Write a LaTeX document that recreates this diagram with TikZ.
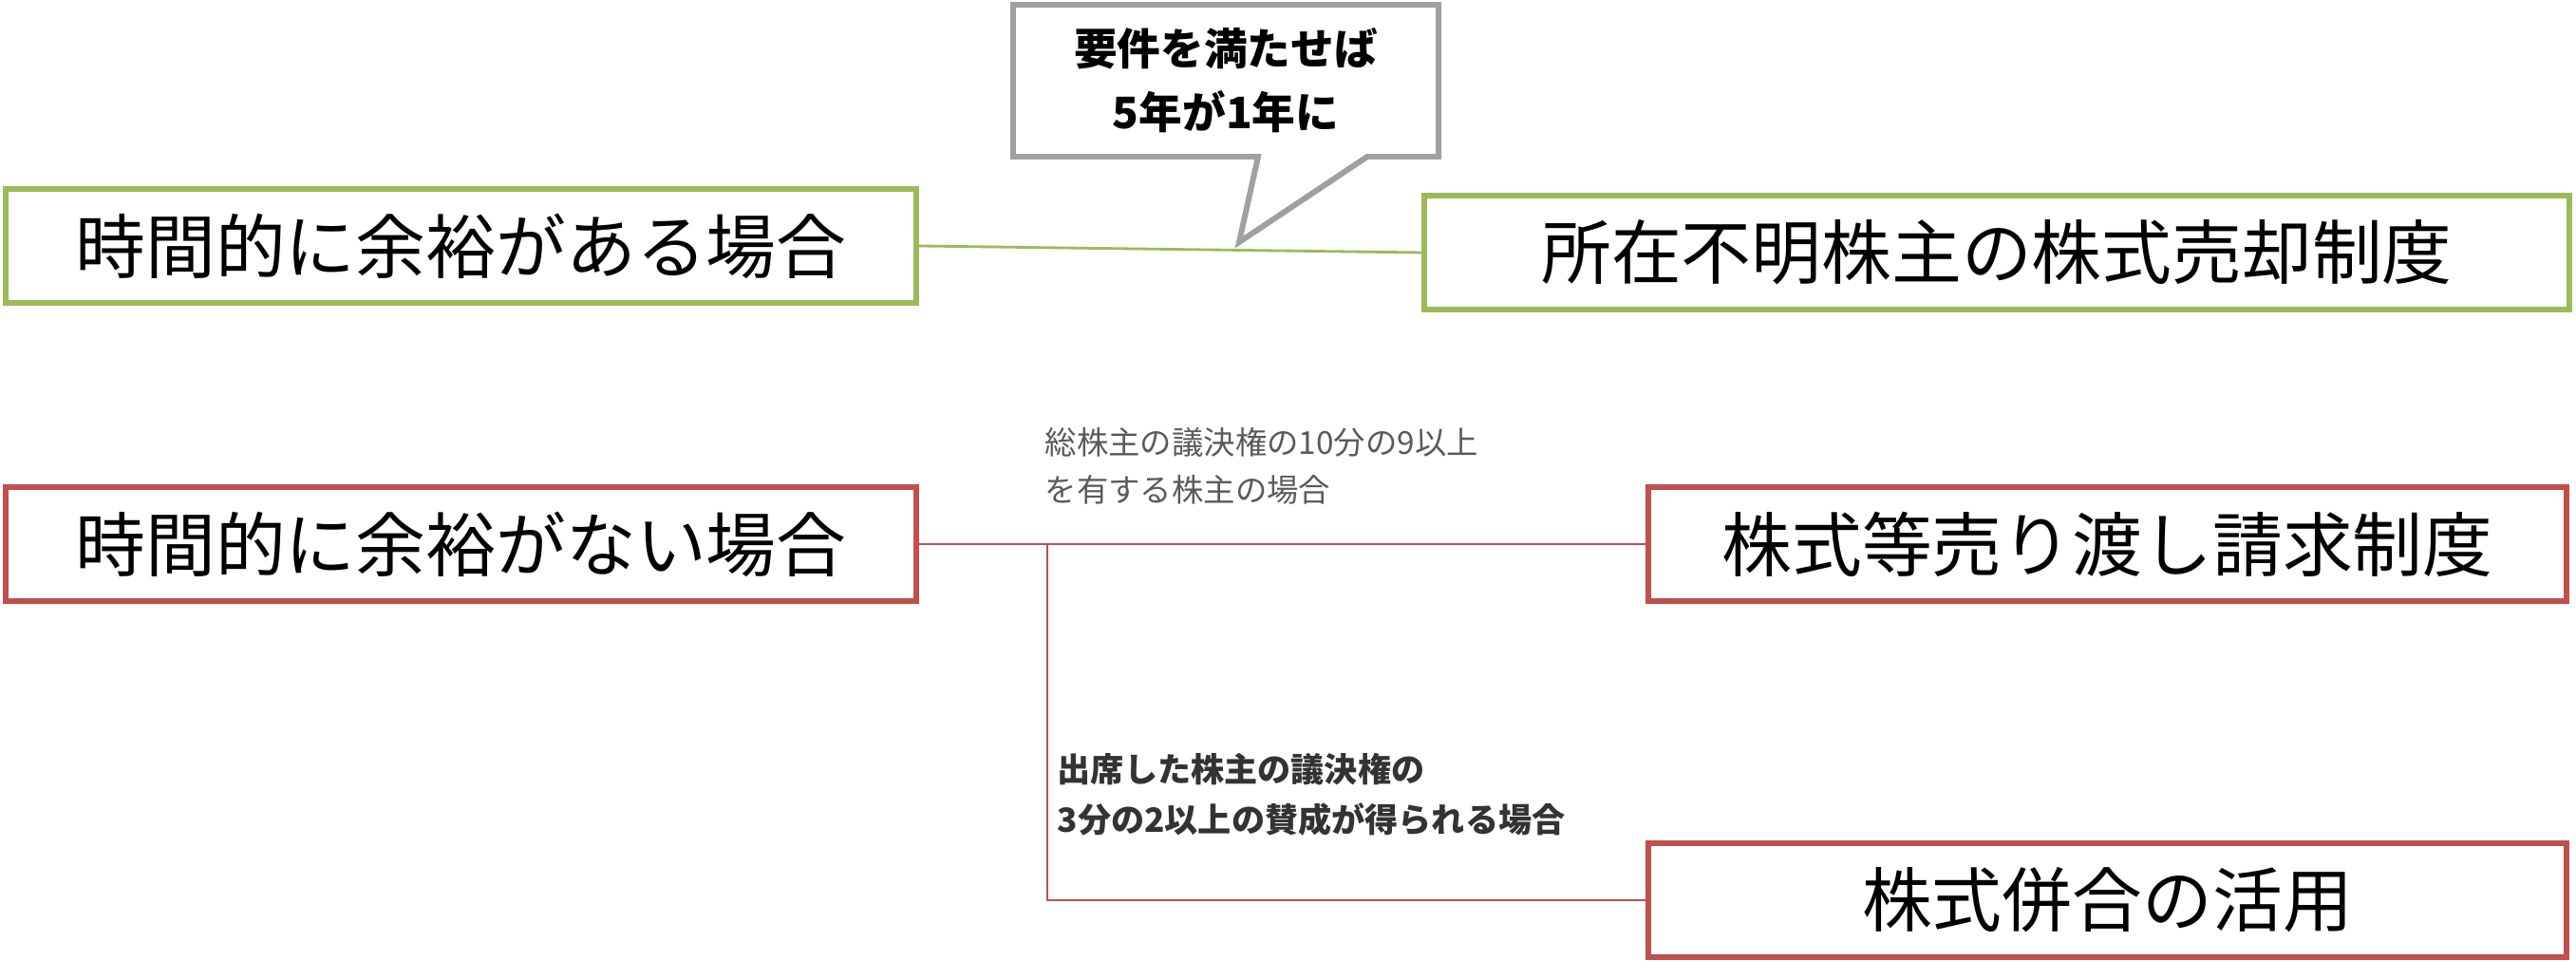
\documentclass[tikz,border=0pt]{standalone}
\usepackage{fontspec}
\setmainfont{Noto Sans CJK JP}
\usetikzlibrary{positioning,calc}
\definecolor{boxgreen}{RGB}{155,187,89}
\definecolor{boxred}{RGB}{192,80,77}
\definecolor{calloutgray}{RGB}{160,160,160}
\definecolor{labelgray}{RGB}{90,90,90}
\tikzset{
  casebox/.style={draw, line width=1.7pt, fill=white, minimum height=1.2cm,
    inner sep=0pt, font=\fontsize{21}{25}\selectfont},
  greenbox/.style={casebox, draw=boxgreen},
  redbox/.style={casebox, draw=boxred},
  condlabel/.style={align=left, anchor=north west, inner sep=0pt}
}
\begin{document}
\begin{tikzpicture}
    \useasboundingbox (0,0) rectangle (27.13,-10.31);

    % callout
    \draw[calloutgray, line width=1.7pt, fill=white, line join=miter]
      (10.67,-0.05) -- (15.15,-0.05) -- (15.15,-1.65) -- (14.40,-1.65)
      -- (13.05,-2.55) -- (13.25,-1.65) -- (10.67,-1.65) -- cycle;
    \node[align=center, font=\fontsize{13}{19}\selectfont\bfseries] (req) at (12.91,-0.85)
      {要件を満たせば\\5年が1年に};

    % cases
    \node[greenbox, minimum width=9.59cm, anchor=north west] (slow) at (0.03,-1.96) {時間的に余裕がある場合};
    \node[greenbox, minimum width=12.06cm, anchor=north west] (unknown) at (14.97,-2.03) {所在不明株主の株式売却制度};
    \node[redbox, minimum width=9.59cm, anchor=north west] (fast) at (0.03,-5.10) {時間的に余裕がない場合};
    \node[redbox, minimum width=9.67cm, anchor=north west] (squeeze) at (17.33,-5.10) {株式等売り渡し請求制度};
    \node[redbox, minimum width=9.67cm, anchor=north west] (merge) at (17.33,-8.85) {株式併合の活用};

    % connectors
    \draw[boxgreen, line width=0.8pt] (slow.east) -- (unknown.west);
    \draw[boxred, line width=0.8pt] (fast.east) -- (squeeze.west);
    \coordinate (branch) at ($(fast.east)+(1.35,0)$);
    \draw[boxred, line width=0.8pt] (branch) |- (merge.west);

    % conditions
    \node[condlabel, text=labelgray, font=\fontsize{9.5}{14}\selectfont] (cond1) at (11.00,-4.50)
      {総株主の議決権の10分の9以上\\を有する株主の場合};
    \node[condlabel, text=black!80, font=\fontsize{10}{15}\selectfont\bfseries] (cond2) at (11.13,-7.93)
      {出席した株主の議決権の\\3分の2以上の賛成が得られる場合};
\end{tikzpicture}
\end{document}
